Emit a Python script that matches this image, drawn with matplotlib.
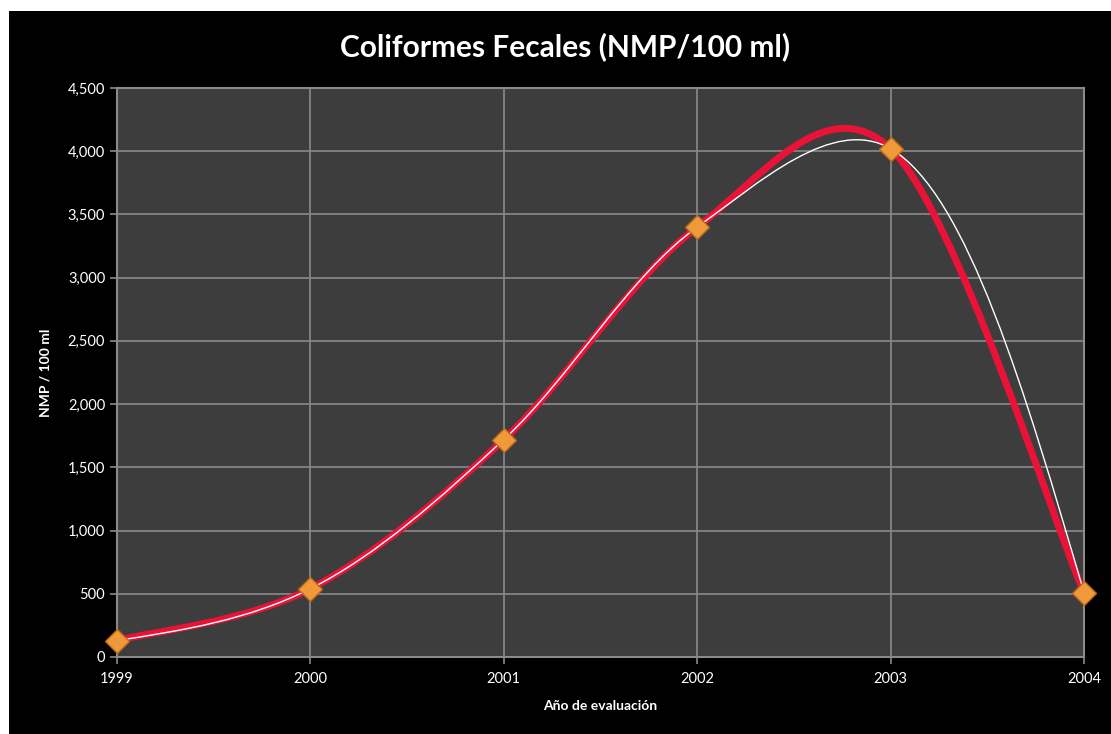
import numpy as np
import matplotlib
matplotlib.use("Agg")
import matplotlib.pyplot as plt
from matplotlib.path import Path
from matplotlib.patches import PathPatch, Rectangle

years = [1999, 2000, 2001, 2002, 2003, 2004]
values = [130, 540, 1720, 3400, 4020, 510]
yticks = [0, 500, 1000, 1500, 2000, 2500, 3000, 3500, 4000, 4500]
title = "Coliformes Fecales (NMP/100 ml)"
xlabel = "Año de evaluación"
ylabel = "NMP / 100 ml"

plt.rcParams['font.family'] = ['Lato', 'DejaVu Sans']

fig = plt.figure(figsize=(11.11, 7.34), dpi=100, facecolor='white')
fig.patches.append(Rectangle((9 / 1111, 0), 1, 1 - 11 / 734, transform=fig.transFigure,
                             facecolor='black', edgecolor='none', zorder=-10))
ax = fig.add_axes([117 / 1111, 1 - 657 / 734, (1084 - 117) / 1111, (657 - 88) / 734])
ax.set_facecolor('#3d3d3d')
ax.set_xlim(1999, 2004)
ax.set_ylim(0, 4500)

x = np.array(years, dtype=float)
y = np.array(values, dtype=float)


def excel_smooth_path(x, y):
    verts = [(x[0], y[0])]
    codes = [Path.MOVETO]
    n = len(x)
    for i in range(n - 1):
        p0 = max(i - 1, 0)
        p3 = min(i + 2, n - 1)
        c1 = (x[i] + (x[i + 1] - x[p0]) / 6, y[i] + (y[i + 1] - y[p0]) / 6)
        c2 = (x[i + 1] - (x[p3] - x[i]) / 6, y[i + 1] - (y[p3] - y[i]) / 6)
        verts += [c1, c2, (x[i + 1], y[i + 1])]
        codes += [Path.CURVE4] * 3
    return Path(verts, codes)


def catmull_path(x, y, alpha):
    # parametrised Catmull-Rom computed in display space, returned in data coords
    P = ax.transData.transform(np.column_stack([x, y]))
    n = len(P)
    t = np.linalg.norm(np.diff(P, axis=0), axis=1) ** alpha
    m = np.zeros_like(P)
    for k in range(1, n - 1):
        a, b = t[k - 1], t[k]
        m[k] = (P[k] - P[k - 1]) / a * b / (a + b) + (P[k + 1] - P[k]) / b * a / (a + b)
    m[0] = (3 * (P[1] - P[0]) / t[0] - m[1]) / 2
    m[-1] = (3 * (P[-1] - P[-2]) / t[-1] - m[-2]) / 2
    verts = [P[0]]
    codes = [Path.MOVETO]
    for k in range(n - 1):
        verts += [P[k] + m[k] * t[k] / 3, P[k + 1] - m[k + 1] * t[k] / 3, P[k + 1]]
        codes += [Path.CURVE4] * 3
    verts = ax.transData.inverted().transform(np.array(verts))
    return Path(verts, codes)


ax.add_patch(PathPatch(excel_smooth_path(x, y), facecolor='none', edgecolor='#ea1237',
                       lw=5, capstyle='round', joinstyle='round', zorder=3))
ax.add_patch(PathPatch(catmull_path(x, y, 0.33), facecolor='none', edgecolor='white',
                       lw=1.0, zorder=4))
ax.plot(x, y, linestyle='none', marker='D', markersize=12, markerfacecolor='#f0993a',
        markeredgecolor='#b8661a', markeredgewidth=1, zorder=5, clip_on=False)

ax.set_xticks(years)
ax.set_xticklabels([str(v) for v in years])
ax.set_yticks(yticks)
ax.set_yticklabels([f"{v:,}" for v in yticks])
ax.grid(True, color='#8a8a8a', lw=1.2)
ax.set_axisbelow(True)
for s in ax.spines.values():
    s.set_color('#8a8a8a')
    s.set_linewidth(1.5)
ax.tick_params(colors='#8a8a8a', labelcolor='white', labelsize=10.5, length=5, width=1.2)
ax.tick_params(axis='x', pad=6)

ax.set_xlabel(xlabel, color='white', fontsize=10, fontweight='bold', labelpad=10)
ax.set_ylabel(ylabel, color='white', fontsize=10, fontweight='bold', labelpad=12)
fig.text(565 / 1111, 1 - 47 / 734, title, color='white', fontsize=21.5, fontweight='bold',
         ha='center', va='center')

fig.savefig('out.png', dpi=100, facecolor=fig.get_facecolor())
